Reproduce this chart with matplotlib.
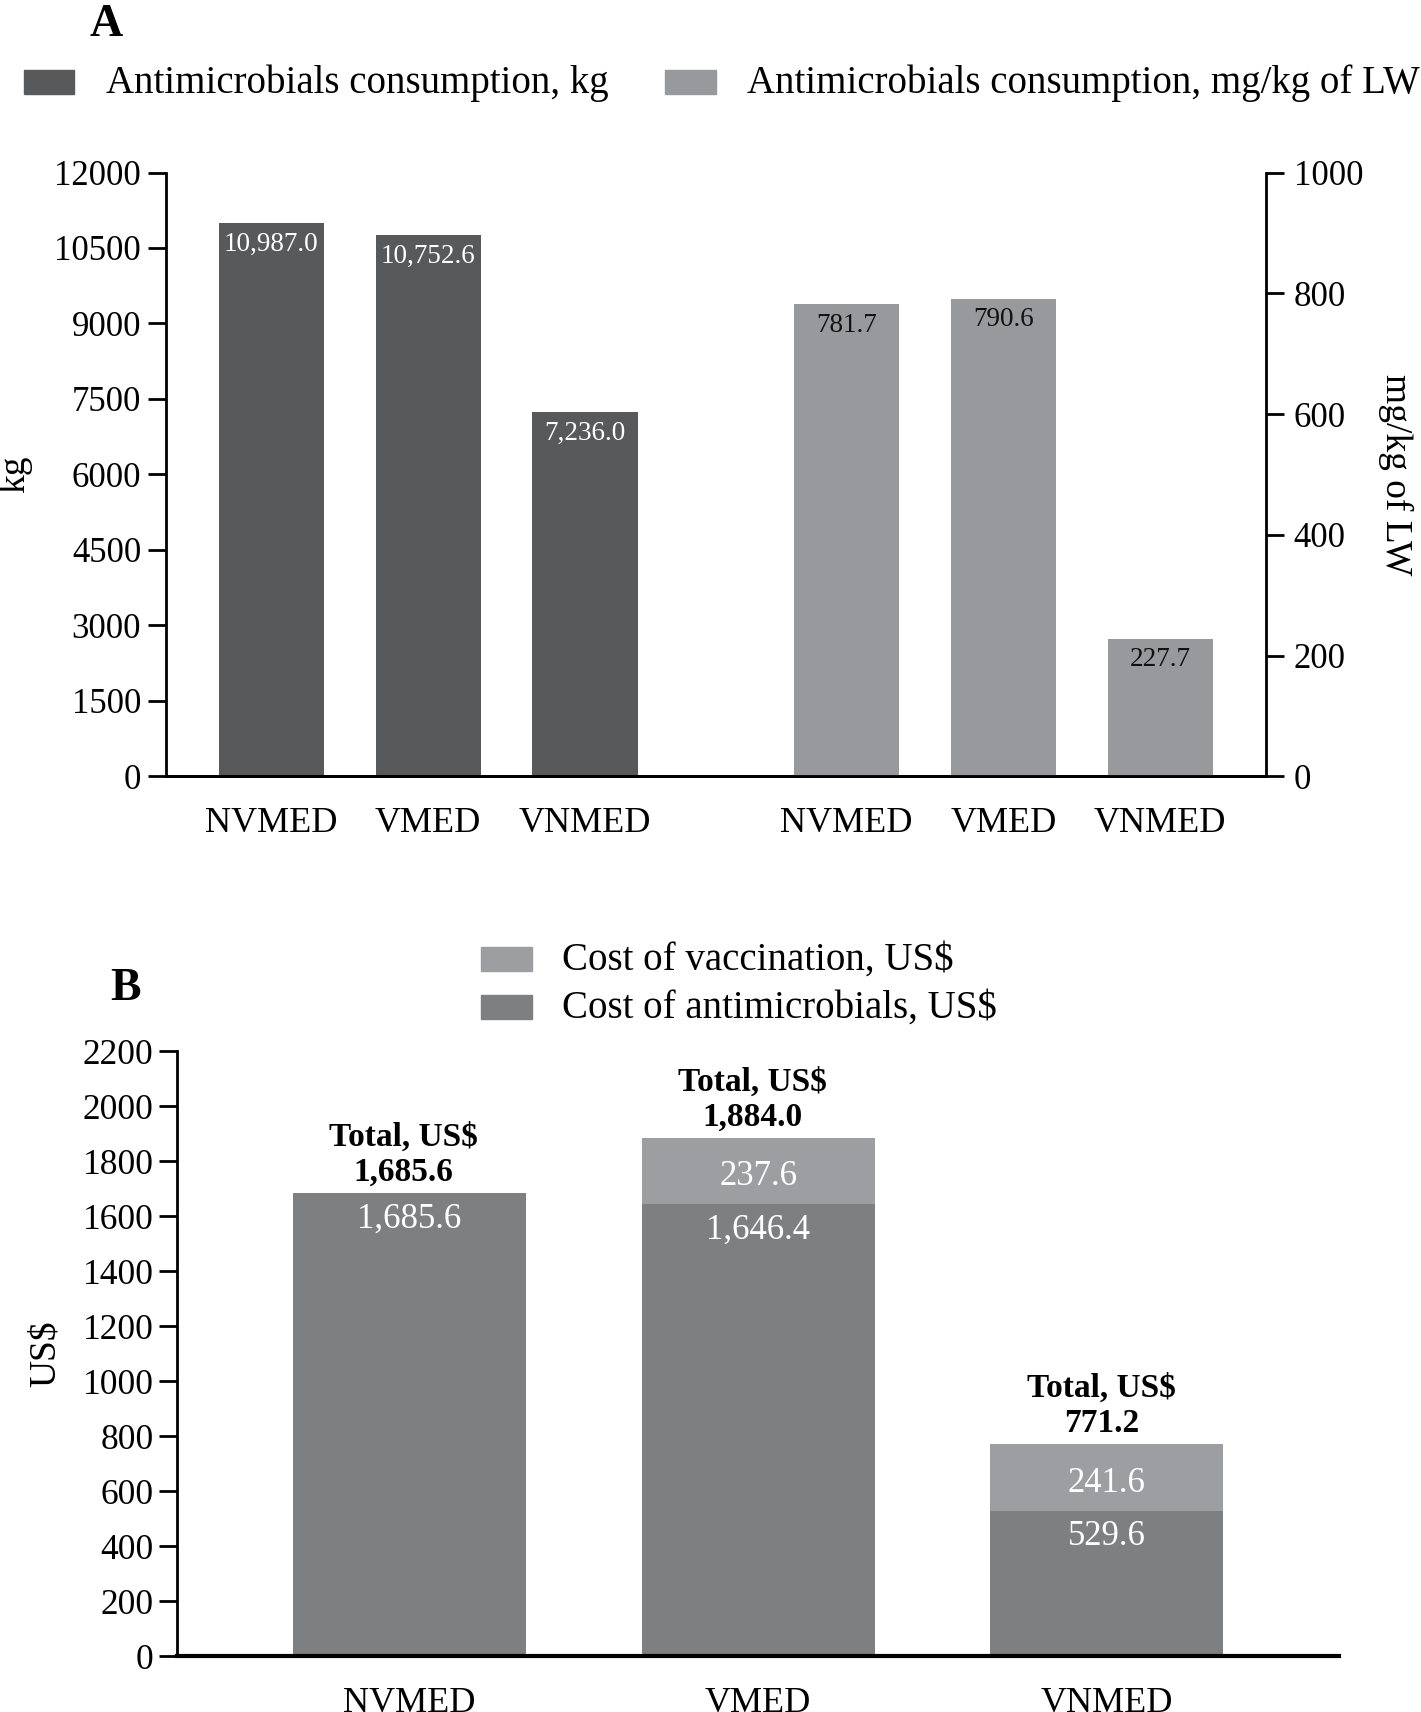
import matplotlib
matplotlib.use("Agg")
import matplotlib.pyplot as plt
from matplotlib.patches import Rectangle

plt.rcParams['font.family'] = ['Liberation Serif', 'DejaVu Serif']

# panel A data
groups_a = ["NVMED", "VMED", "VNMED"]
kg_values = [10987.0, 10752.6, 7236.0]
mgkg_values = [781.7, 790.6, 227.7]

# panel B data
groups_b = ["NVMED", "VMED", "VNMED"]
cost_antimicrobials = [1685.6, 1646.4, 529.6]
cost_vaccination = [0.0, 237.6, 241.6]

dark_a = "#58595b"
light_a = "#97999c"
dark_b = "#7e7f81"
light_b = "#9c9ea1"

W, H = 1300.0, 1568.0   # layout units of the reference


def fx(x):
    return x / W


def fy(y):
    return 1 - y / H


fig = plt.figure(figsize=(14.21, 17.12), dpi=100)

# ---------------- panel A ----------------
axA = fig.add_axes([fx(152), fy(711), fx(1158) - fx(152), fy(158) - fy(711)])
axA2 = axA.twinx()

pos_kg = [0, 1, 2]
pos_mg = [3.667, 4.667, 5.667]
bw = 0.67

axA.bar(pos_kg, kg_values, width=bw, color=dark_a, zorder=2)
axA2.bar(pos_mg, mgkg_values, width=bw, color=light_a, zorder=2)

axA.set_xlim(-0.67, 6.34)
axA.set_ylim(0, 12000)
axA2.set_ylim(0, 1000)
axA.set_yticks(range(0, 12001, 1500))
axA2.set_yticks(range(0, 1001, 200))
axA.set_xticks(pos_kg + pos_mg)
axA.set_xticklabels(groups_a + groups_a)

for ax in (axA, axA2):
    ax.spines['top'].set_visible(False)
    for s in ax.spines.values():
        s.set_linewidth(2)
axA.spines['right'].set_visible(False)
axA2.spines['left'].set_visible(False)
axA.tick_params(axis='y', length=13, width=2, labelsize=25, pad=5)
axA2.tick_params(axis='y', length=13, width=2, labelsize=25, pad=7)
axA.tick_params(axis='x', length=0, labelsize=26, pad=22)

axA.set_ylabel("kg", fontsize=27, labelpad=16)
axA2.set_ylabel("mg/kg of LW", fontsize=27, rotation=270, labelpad=36)

for x, v in zip(pos_kg, kg_values):
    axA.annotate(f"{v:,.1f}", (x, v), xytext=(0, -6), textcoords="offset points",
                 ha="center", va="top", color="white", fontsize=19.5)
for x, v in zip(pos_mg, mgkg_values):
    axA2.annotate(f"{v:,.1f}", (x, v), xytext=(0, -6), textcoords="offset points",
                  ha="center", va="top", color="#111111", fontsize=19.5)

fig.text(fx(97), fy(23), "A", fontsize=33, fontweight="bold", ha="center", va="center")
fig.patches.append(Rectangle((fx(22), fy(86)), fx(68) - fx(22), fy(64) - fy(86),
                             transform=fig.transFigure, color=dark_a))
fig.text(fx(97), fy(76), "Antimicrobials consumption, kg", fontsize=28, va="center")
fig.patches.append(Rectangle((fx(608), fy(86)), fx(655) - fx(608), fy(64) - fy(86),
                             transform=fig.transFigure, color=light_a))
fig.text(fx(683), fy(76), "Antimicrobials consumption, mg/kg of LW", fontsize=28, va="center")

# ---------------- panel B ----------------
axB = fig.add_axes([fx(162), fy(1517), fx(1225) - fx(162), fy(963) - fy(1517)])
xb = [0, 1, 2]
bwb = 0.668
axB.bar(xb, cost_antimicrobials, width=bwb, color=dark_b, zorder=2)
axB.bar(xb, cost_vaccination, width=bwb, bottom=cost_antimicrobials, color=light_b, zorder=2)

axB.set_xlim(-0.666, 2.666)
axB.set_ylim(0, 2200)
axB.set_yticks(range(0, 2201, 200))
axB.set_xticks(xb)
axB.set_xticklabels(groups_b)
axB.spines['top'].set_visible(False)
axB.spines['right'].set_visible(False)
axB.spines['left'].set_linewidth(2)
axB.spines['bottom'].set_linewidth(3)
axB.tick_params(axis='y', length=13, width=2, labelsize=25.5, pad=4)
axB.tick_params(axis='x', length=0, labelsize=26, pad=22)
axB.set_ylabel("US$", fontsize=27, labelpad=14)

for x, a, v in zip(xb, cost_antimicrobials, cost_vaccination):
    axB.annotate(f"{a:,.1f}", (x, a), xytext=(0, -7), textcoords="offset points",
                 ha="center", va="top", color="white", fontsize=25)
    if v > 0:
        axB.annotate(f"{v:,.1f}", (x, a + v / 2), xytext=(0, -4),
                     textcoords="offset points", ha="center", va="center",
                     color="white", fontsize=25)
    total = a + v
    axB.annotate(f"Total, US$\n{total:,.1f}", (x, total), xytext=(-4, 4),
                 textcoords="offset points", ha="center", va="bottom",
                 fontsize=24, fontweight="bold", linespacing=1.15)

fig.text(fx(115), fy(906), "B", fontsize=33, fontweight="bold", ha="center", va="center")
fig.patches.append(Rectangle((fx(440), fy(889)), fx(487) - fx(440), fy(867) - fy(889),
                             transform=fig.transFigure, color=light_b))
fig.text(fx(514), fy(879), "Cost of vaccination, US$", fontsize=28, va="center")
fig.patches.append(Rectangle((fx(440), fy(933)), fx(487) - fx(440), fy(911) - fy(933),
                             transform=fig.transFigure, color=dark_b))
fig.text(fx(514), fy(923), "Cost of antimicrobials, US$", fontsize=28, va="center")

fig.savefig("out.png", dpi=100)
